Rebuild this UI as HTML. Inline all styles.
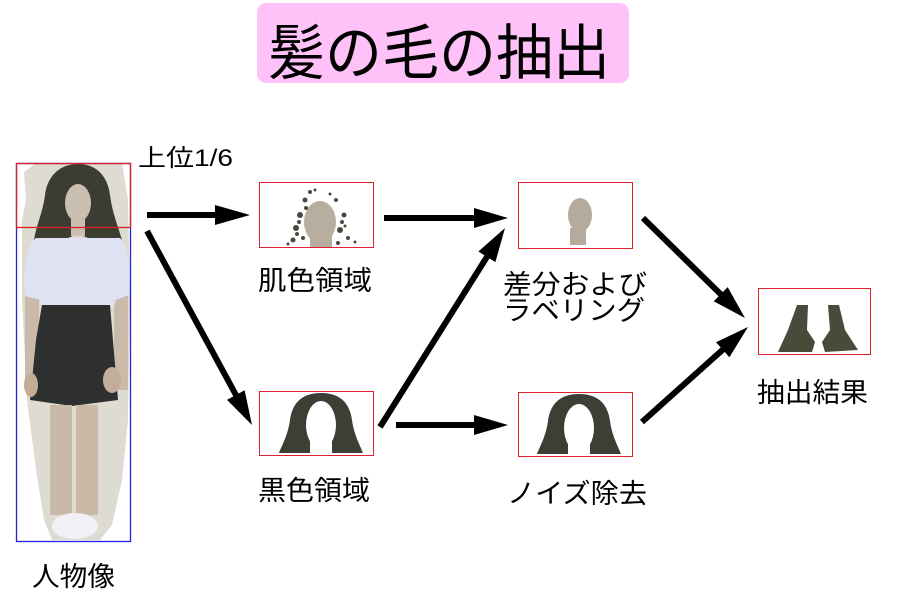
<!DOCTYPE html>
<html>
<head>
<meta charset="utf-8">
<style>
  html,body{margin:0;padding:0;background:#fff;}
  body{width:898px;height:603px;overflow:hidden;}
  svg{display:block;}
  text{font-family:"Liberation Sans","Noto Sans CJK JP",sans-serif;fill:#000;}
</style>
</head>
<body>
<svg width="898" height="603" viewBox="0 0 898 603" xmlns="http://www.w3.org/2000/svg">
  <!-- Title -->
  <rect x="257" y="3" width="372" height="80" rx="9" ry="9" fill="#ffc2f8"/>
  <text x="268" y="74" font-size="60" textLength="342" lengthAdjust="spacingAndGlyphs">髪の毛の抽出</text>

  <!-- Person figure -->
  <polygon fill="#dedbd2" points="24,172 36,163 122,163 128,200 130,300 128,420 122,480 112,525 100,540 52,540 44,520 36,470 27,400 22,300 22,220 26,200"/>
  <!-- hair -->
  <path fill="#3b3d33" d="M78,164 C58,164 47,178 45,195 C43,212 36,226 34,240 L58,242 L78,234 L98,242 L122,240 C118,226 112,212 110,195 C108,178 98,164 78,164 Z"/>
  <ellipse cx="78" cy="203" rx="13" ry="19" fill="#cbbfb2"/>
  <rect x="71" y="218" width="14" height="18" fill="#cbbfb2"/>
  <!-- arms -->
  <rect x="25" y="295" width="14" height="95" fill="#cbbaa9"/>
  <rect x="114" y="295" width="14" height="95" fill="#cbbaa9"/>
  <!-- blouse -->
  <path fill="#dfe2f2" d="M36,238 L120,238 C128,245 131,270 129,295 L116,300 L114,306 L42,308 L40,300 L25,296 C23,270 26,246 36,238 Z"/>
  <!-- shorts -->
  <polygon fill="#2d302e" points="42,305 110,305 118,400 72,406 30,400 36,340"/>
  <!-- hands -->
  <ellipse cx="31" cy="385" rx="7" ry="12" fill="#c2ad9a"/>
  <ellipse cx="112" cy="380" rx="9" ry="13" fill="#c2ad9a"/>
  <!-- legs -->
  <rect x="50" y="405" width="22" height="110" fill="#cbb9a8"/>
  <rect x="76" y="405" width="22" height="110" fill="#cbb9a8"/>
  <!-- shoes -->
  <ellipse cx="75" cy="526" rx="23" ry="13" fill="#f0f0f5"/>

  <!-- person boxes -->
  <rect x="16.5" y="163.5" width="114" height="378" fill="none" stroke="#2020e0" stroke-width="1.3"/>
  <rect x="16.5" y="163.5" width="114" height="64" fill="none" stroke="#e02020" stroke-width="1.3"/>

  <!-- Skin region box -->
  <g>
    <ellipse cx="320" cy="222" rx="16" ry="21" fill="#b8ae9f"/>
    <rect x="310" y="235" width="22" height="12" fill="#b8ae9f"/>
    <g fill="#4a4a3c">
      <circle cx="300" cy="215" r="3"/><circle cx="296" cy="228" r="3"/><circle cx="305" cy="200" r="2.5"/>
      <circle cx="293" cy="240" r="2.5"/><circle cx="340" cy="230" r="3"/><circle cx="344" cy="215" r="2.5"/>
      <circle cx="338" cy="243" r="2"/><circle cx="303" cy="238" r="2"/><circle cx="310" cy="192" r="2"/>
      <circle cx="348" cy="238" r="2"/><circle cx="288" cy="244" r="1.5"/><circle cx="355" cy="242" r="1.5"/>
      <circle cx="299" cy="222" r="2"/><circle cx="342" cy="222" r="2"/><circle cx="306" cy="208" r="2"/>
      <circle cx="336" cy="200" r="2"/><circle cx="330" cy="194" r="1.5"/><circle cx="315" cy="190" r="1.5"/>
      <circle cx="297" cy="234" r="2"/><circle cx="345" cy="226" r="1.5"/>
    </g>
    <rect x="259.5" y="182.5" width="114" height="65" fill="none" stroke="#e02030" stroke-width="1"/>
  </g>

  <!-- Diff & labeling box -->
  <g>
    <ellipse cx="580" cy="215" rx="12" ry="17" fill="#b5ab9c"/>
    <rect x="570" y="228" width="16" height="17" fill="#b5ab9c"/>
    <rect x="518.5" y="182.5" width="114" height="66" fill="none" stroke="#e02030" stroke-width="1"/>
  </g>

  <!-- Black region box -->
  <g>
    <path fill="#3b3f34" d="M321,393 C300,393 292,405 290,420 C288,435 282,445 279,453 L363,453 C360,445 354,435 352,420 C350,405 342,393 321,393 Z"/>
    <ellipse cx="321" cy="425" rx="15" ry="24" fill="#fff"/>
    <rect x="310" y="435" width="22" height="18" fill="#fff"/>
    <rect x="259.5" y="391.5" width="114" height="64" fill="none" stroke="#e02030" stroke-width="1"/>
  </g>

  <!-- Noise removal box -->
  <g>
    <path fill="#3b3f34" d="M579,394 C558,394 550,406 548,421 C546,436 540,446 537,454 L621,454 C618,446 612,436 610,421 C608,406 600,394 579,394 Z"/>
    <ellipse cx="579" cy="428" rx="15" ry="24" fill="#fff"/>
    <rect x="568" y="438" width="22" height="16" fill="#fff"/>
    <rect x="518.5" y="392.5" width="114" height="64" fill="none" stroke="#e02030" stroke-width="1"/>
  </g>

  <!-- Result box -->
  <g>
    <polygon fill="#4a4a3a" points="797,305 808,305 807,330 815,342 812,352 778,352 788,330"/>
    <polygon fill="#4a4a3a" points="828,305 839,305 845,330 858,350 825,352 822,342 830,330"/>
    <rect x="758.5" y="288.5" width="112" height="66" fill="none" stroke="#e02030" stroke-width="1"/>
  </g>

  <!-- Arrows -->
  <g stroke="#000" stroke-width="6" fill="none">
    <line x1="147" y1="215" x2="218" y2="215"/>
    <line x1="147" y1="231" x2="236.5" y2="396"/>
    <line x1="384" y1="218" x2="477" y2="218"/>
    <line x1="380" y1="427" x2="487.5" y2="256"/>
    <line x1="396" y1="425" x2="477" y2="425"/>
    <line x1="643" y1="218" x2="721.5" y2="295"/>
    <line x1="642" y1="422" x2="723.5" y2="349"/>
  </g>
  <g fill="#000">
    <polygon points="250,215 215,205 215,225"/>
    <polygon points="252,425 244.6,390.3 227,399.9"/>
    <polygon points="508,218 474,208 474,228"/>
    <polygon points="505,228 495.4,262.1 478.4,251.5"/>
    <polygon points="508,425 474,415 474,435"/>
    <polygon points="745,318 713.7,301.3 727.7,287.1"/>
    <polygon points="748,327 729.4,357.2 716,342.3"/>
  </g>

  <!-- Labels -->
  <text x="138" y="166" font-size="24" textLength="95" lengthAdjust="spacingAndGlyphs">上位1/6</text>
  <text x="258" y="290" font-size="27" textLength="114" lengthAdjust="spacingAndGlyphs">肌色領域</text>
  <text x="258" y="500" font-size="27" textLength="112" lengthAdjust="spacingAndGlyphs">黒色領域</text>
  <text x="503" y="294" font-size="27" textLength="144" lengthAdjust="spacingAndGlyphs">差分および</text>
  <text x="503" y="320" font-size="27" textLength="142" lengthAdjust="spacingAndGlyphs">ラベリング</text>
  <text x="507" y="503" font-size="27" textLength="140" lengthAdjust="spacingAndGlyphs">ノイズ除去</text>
  <text x="757" y="402" font-size="27" textLength="111" lengthAdjust="spacingAndGlyphs">抽出結果</text>
  <text x="32" y="586" font-size="27" textLength="83" lengthAdjust="spacingAndGlyphs">人物像</text>
</svg>
</body>
</html>
